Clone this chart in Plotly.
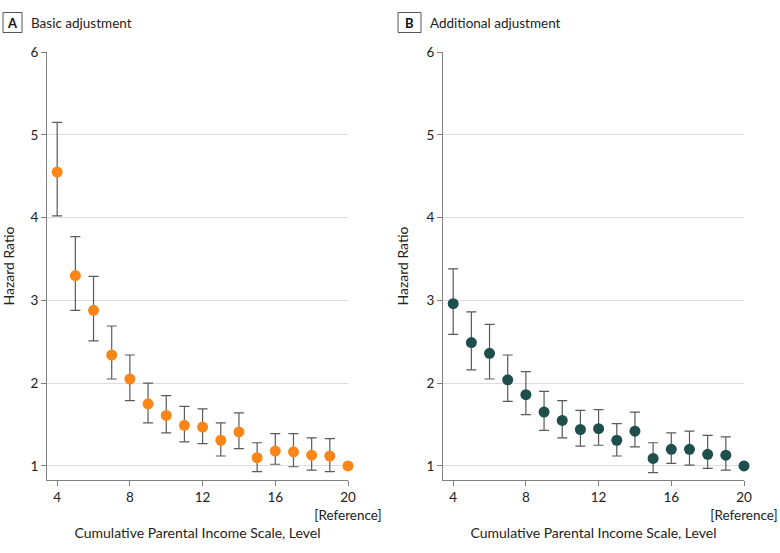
import plotly.graph_objects as go

levels = list(range(4, 21))

a_hr = [4.55, 3.30, 2.88, 2.34, 2.05, 1.75, 1.61, 1.49, 1.47, 1.31, 1.41, 1.10, 1.18, 1.17, 1.13, 1.12, 1.00]
a_lo = [4.02, 2.88, 2.51, 2.05, 1.79, 1.52, 1.40, 1.29, 1.27, 1.12, 1.21, 0.93, 1.02, 0.99, 0.95, 0.93, None]
a_hi = [5.15, 3.77, 3.29, 2.69, 2.34, 2.00, 1.85, 1.72, 1.69, 1.52, 1.64, 1.28, 1.39, 1.39, 1.34, 1.33, None]

b_hr = [2.96, 2.49, 2.36, 2.04, 1.86, 1.65, 1.55, 1.44, 1.45, 1.31, 1.42, 1.09, 1.20, 1.20, 1.14, 1.13, 1.00]
b_lo = [2.59, 2.16, 2.05, 1.78, 1.62, 1.43, 1.34, 1.24, 1.25, 1.12, 1.23, 0.92, 1.03, 1.01, 0.97, 0.95, None]
b_hi = [3.38, 2.86, 2.71, 2.34, 2.14, 1.90, 1.79, 1.67, 1.68, 1.51, 1.65, 1.28, 1.40, 1.42, 1.37, 1.35, None]

x_tickvals = [4, 8, 12, 16, 20]
x_ticktext = ["4", "8", "12", "16", "20<br>[Reference]"]
y_tickvals = [1, 2, 3, 4, 5, 6]

panel_letters = ["A", "B"]
panel_titles = ["Basic adjustment", "Additional adjustment"]
x_title = "Cumulative Parental Income Scale, Level"
y_title = "Hazard Ratio"

colors = ["#FB8617", "#1F4F4C"]
FONT = "Lato"
W, H = 780, 553


def errs(hr, lo, hi):
    plus = [None if h is None else h - v for v, h in zip(hr, hi)]
    minus = [None if l is None else v - l for v, l in zip(hr, lo)]
    return plus, minus


fig = go.Figure()
for i, (hr, lo, hi) in enumerate([(a_hr, a_lo, a_hi), (b_hr, b_lo, b_hi)]):
    plus, minus = errs(hr, lo, hi)
    fig.add_trace(go.Scatter(
        x=levels, y=hr, mode="markers",
        marker=dict(size=11, color=colors[i]),
        error_y=dict(type="data", symmetric=False, array=plus, arrayminus=minus,
                     color="#5a5a5a", thickness=1.2, width=5),
        cliponaxis=False, showlegend=False,
        xaxis="x" if i == 0 else "x2", yaxis="y" if i == 0 else "y2",
    ))

domains_x = [[47 / W, 348 / W], [443 / W, 744 / W]]
dom_y = [1 - 480 / H, 1 - 52 / H]

axis_common = dict(showline=True, linecolor="#808080", linewidth=1, ticks="outside", automargin=False,
                   ticklen=5, tickcolor="#808080", tickfont=dict(size=13.5, color="#222", family=FONT))

layout = dict(
    width=W, height=H, margin=dict(l=0, r=0, t=0, b=0, autoexpand=False),
    plot_bgcolor="white", paper_bgcolor="white",
    font=dict(family=FONT, size=14, color="#222"),
)
for i in range(2):
    sx = "" if i == 0 else "2"
    layout["xaxis" + sx] = dict(
        axis_common, domain=domains_x[i], range=[3.44, 20], tickvals=x_tickvals, ticktext=x_ticktext,
        showgrid=False, zeroline=False, anchor="y" + sx,
        title=dict(text=x_title, standoff=6, font=dict(size=14, family=FONT, color="#222")),
    )
    layout["yaxis" + sx] = dict(
        axis_common, domain=dom_y, range=[0.83, 6], tickvals=y_tickvals,
        showgrid=True, gridcolor="#dddddd", gridwidth=1, zeroline=False, anchor="x" + sx,
        title=dict(text=y_title, standoff=14, font=dict(size=14, family=FONT, color="#222")),
    )

fig.update_layout(**layout)

box_x = [(3, 22), (398, 421)]
for i in range(2):
    x0, x1 = box_x[i]
    fig.add_shape(type="rect", xref="paper", yref="paper",
                  x0=x0 / W, x1=x1 / W, y0=1 - 32.5 / H, y1=1 - 12.5 / H,
                  line=dict(color="#555", width=1), fillcolor="white")
    fig.add_annotation(xref="paper", yref="paper", x=(x0 + x1) / 2 / W, y=1 - 22.5 / H,
                       text="<b>" + panel_letters[i] + "</b>", showarrow=False,
                       xanchor="center", yanchor="middle", font=dict(size=13, family=FONT, color="#111"))
    fig.add_annotation(xref="paper", yref="paper", x=(x1 + 7) / W, y=1 - 22.5 / H,
                       text=panel_titles[i], showarrow=False,
                       xanchor="left", yanchor="middle", font=dict(size=13.5, family=FONT, color="#222"))

fig.write_html("out.html", config={"displayModeBar": False},
               post_script="document.body.style.margin='0px';")
